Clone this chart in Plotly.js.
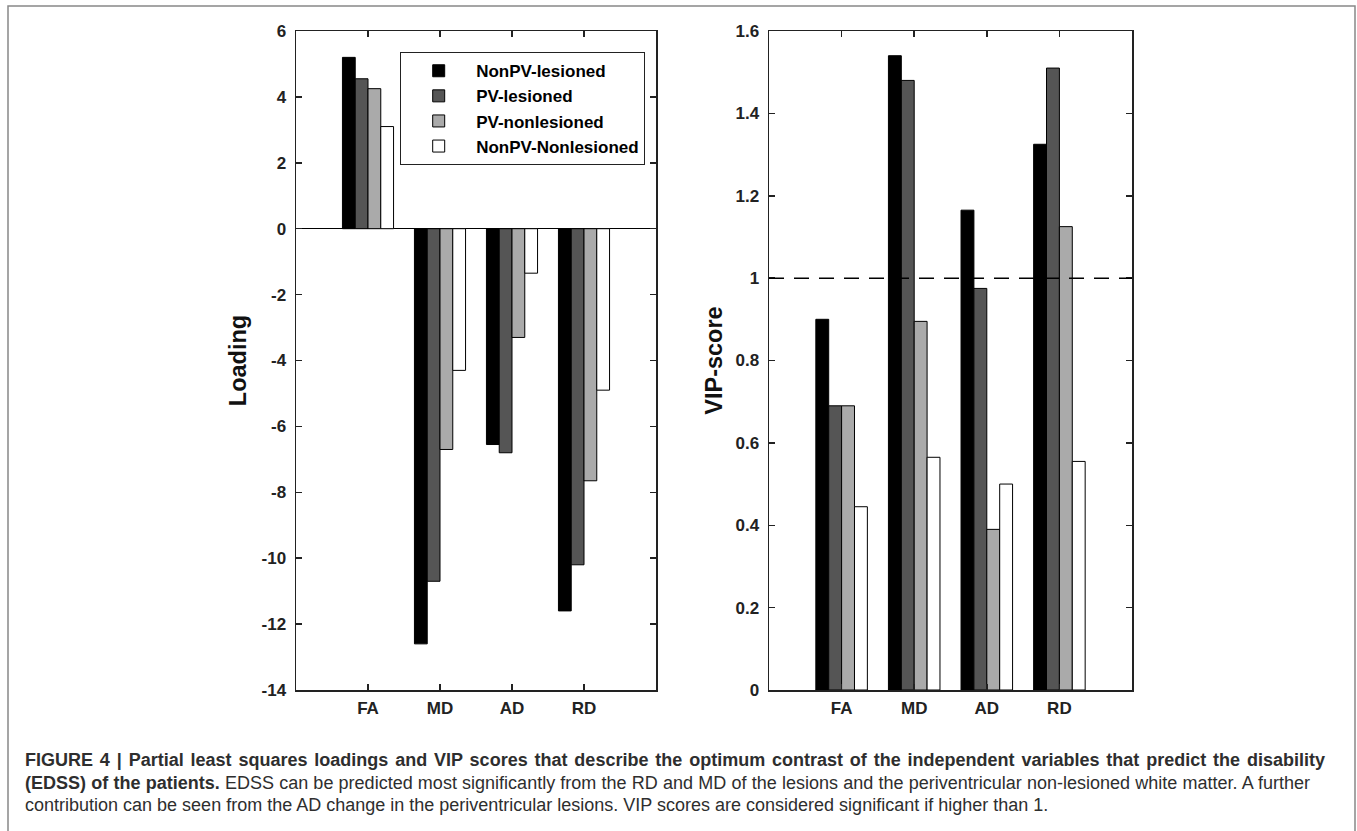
<!DOCTYPE html>
<html>
<head>
<meta charset="utf-8">
<script src="https://cdn.plot.ly/plotly-3.0.1.min.js"></script>
<style>html,body{margin:0;padding:0;background:#fff;}#chart{width:1357px;height:831px;}</style>
</head>
<body>
<div id="chart"></div>
<script>
// ---- data ----
const categories = ["FA", "MD", "AD", "RD"];
const seriesNames = ["NonPV-lesioned", "PV-lesioned", "PV-nonlesioned", "NonPV-Nonlesioned"];
const seriesColors = ["#000000", "#555555", "#aaaaaa", "#ffffff"];
const loadingNonPVLesioned = [5.2, -12.6, -6.55, -11.6];
const loadingPVLesioned = [4.55, -10.7, -6.8, -10.2];
const loadingPVNonlesioned = [4.25, -6.7, -3.3, -7.65];
const loadingNonPVNonlesioned = [3.1, -4.3, -1.35, -4.9];
const vipNonPVLesioned = [0.9, 1.54, 1.165, 1.325];
const vipPVLesioned = [0.69, 1.48, 0.975, 1.51];
const vipPVNonlesioned = [0.69, 0.895, 0.39, 1.125];
const vipNonPVNonlesioned = [0.445, 0.565, 0.5, 0.555];
const vipThreshold = 1;
const loadingTickVals = [-14, -12, -10, -8, -6, -4, -2, 0, 2, 4, 6];
const loadingTickText = ["-14", "-12", "-10", "-8", "-6", "-4", "-2", "0", "2", "4", "6"];
const vipTickVals = [0, 0.2, 0.4, 0.6, 0.8, 1, 1.2, 1.4, 1.6];
const vipTickText = ["0", "0.2", "0.4", "0.6", "0.8", "1", "1.2", "1.4", "1.6"];
const captionLine1 = "FIGURE 4 | Partial least squares loadings and VIP scores that describe the optimum contrast of the independent variables that predict the disability";
const captionLine2Bold = "(EDSS) of the patients.";
const captionLine2 = " EDSS can be predicted most significantly from the RD and MD of the lesions and the periventricular non-lesioned white matter. A further";
const captionLine3 = "contribution can be seen from the AD change in the periventricular lesions. VIP scores are considered significant if higher than 1.";

const loadingSeries = [loadingNonPVLesioned, loadingPVLesioned, loadingPVNonlesioned, loadingNonPVNonlesioned];
const vipSeries = [vipNonPVLesioned, vipPVLesioned, vipPVNonlesioned, vipNonPVNonlesioned];

const W = 1357, H = 831;
const FONT = "Liberation Sans, Arial, Helvetica, sans-serif";

const traces = [];
loadingSeries.forEach((vals, i) => {
  traces.push({
    type: "bar", x: categories, y: vals, name: seriesNames[i],
    marker: {color: seriesColors[i], line: {color: "#000", width: 1}},
    xaxis: "x", yaxis: "y", showlegend: true, legendgroup: seriesNames[i],
    hoverinfo: "x+y+name"
  });
});
vipSeries.forEach((vals, i) => {
  traces.push({
    type: "bar", x: categories, y: vals, name: seriesNames[i],
    marker: {color: seriesColors[i], line: {color: "#000", width: 1}},
    xaxis: "x2", yaxis: "y2", showlegend: false, legendgroup: seriesNames[i],
    hoverinfo: "x+y+name"
  });
});

const tickFont = {family: FONT, size: 17, color: "#222", weight: "bold"};
const titleFont = {family: FONT, size: 23.5, color: "#111", weight: "bold"};
const yDomain = [1 - 690 / H, 1 - 31 / H];

const xCommon = {
  type: "category", range: [-1, 4], showline: true, linecolor: "#222", linewidth: 1.5,
  mirror: "ticks", ticks: "inside", ticklen: 6, tickcolor: "#222", tickwidth: 1.5,
  showgrid: false, zeroline: false, tickfont: tickFont, ticklabelstandoff: 2, fixedrange: true
};
const yCommon = {
  showline: true, linecolor: "#222", linewidth: 1.5, mirror: "ticks", ticks: "inside",
  ticklen: 6, tickcolor: "#222", tickwidth: 1.5, showgrid: false, tickfont: tickFont,
  ticklabelstandoff: 5, fixedrange: true
};

const capFont = {family: FONT, size: 18, color: "#2e2e2e"};

const layout = {
  width: W, height: H,
  margin: {l: 0, r: 0, t: 0, b: 0},
  paper_bgcolor: "#fff", plot_bgcolor: "#fff",
  barmode: "group", bargap: 0.29, bargroupgap: 0,
  font: {family: FONT, color: "#222"},
  xaxis: Object.assign({}, xCommon, {domain: [296 / W, 656 / W], anchor: "y"}),
  yaxis: Object.assign({}, yCommon, {
    domain: yDomain, anchor: "x", range: [-14, 6], tickvals: loadingTickVals, ticktext: loadingTickText,
    zeroline: true, zerolinecolor: "#000", zerolinewidth: 1.5,
    title: {text: "Loading", font: titleFont, standoff: 8}
  }),
  xaxis2: Object.assign({}, xCommon, {domain: [769 / W, 1132 / W], anchor: "y2"}),
  yaxis2: Object.assign({}, yCommon, {
    domain: yDomain, anchor: "x2", range: [0, 1.6], tickvals: vipTickVals, ticktext: vipTickText,
    zeroline: false,
    title: {text: "VIP-score", font: titleFont, standoff: 6}
  }),
  legend: {
    x: 400 / W, y: 1 - 52 / H, xanchor: "left", yanchor: "top",
    bgcolor: "#fff", bordercolor: "#222", borderwidth: 1.2,
    font: {family: FONT, size: 17, color: "#000", weight: "bold"},
    itemwidth: 65, tracegroupgap: 0
  },
  shapes: [
    {type: "line", xref: "x2 domain", x0: 0, x1: 1, yref: "y2", y0: vipThreshold, y1: vipThreshold,
     line: {color: "#000", width: 1.5, dash: "15px,10px"}},
    {type: "rect", xref: "paper", yref: "paper", x0: 8 / W, x1: 1355 / W, y0: -0.1, y1: 1 - 6 / H,
     line: {color: "#888", width: 1.5}, fillcolor: "rgba(0,0,0,0)", layer: "below"}
  ],
  annotations: [
    {xref: "paper", yref: "paper", x: 23 / W, y: 1 - 760 / H, xanchor: "left", yanchor: "middle", align: "left",
     showarrow: false, text: "<b>" + captionLine1 + "</b>", font: capFont},
    {xref: "paper", yref: "paper", x: 23 / W, y: 1 - 783 / H, xanchor: "left", yanchor: "middle", align: "left",
     showarrow: false, text: "<b>" + captionLine2Bold + "</b>" + captionLine2, font: capFont},
    {xref: "paper", yref: "paper", x: 23 / W, y: 1 - 805 / H, xanchor: "left", yanchor: "middle", align: "left",
     showarrow: false, text: captionLine3, font: capFont}
  ]
};

Plotly.newPlot("chart", traces, layout, {displayModeBar: false, staticPlot: true}).then(gd => {
  // justify the first two caption lines like the printed figure
  const targets = [1323, 1308];
  const texts = gd.querySelectorAll(".annotation-text");
  targets.forEach((right, i) => {
    const t = texts[i];
    if (!t) return;
    const box = t.getBBox();
    const spaces = (t.textContent.match(/ /g) || []).length;
    const extra = (right - 23) - box.width;
    if (spaces > 0 && extra > 0) {
      t.style.wordSpacing = (extra / spaces) + "px";
    }
  });
});
</script>
</body>
</html>
